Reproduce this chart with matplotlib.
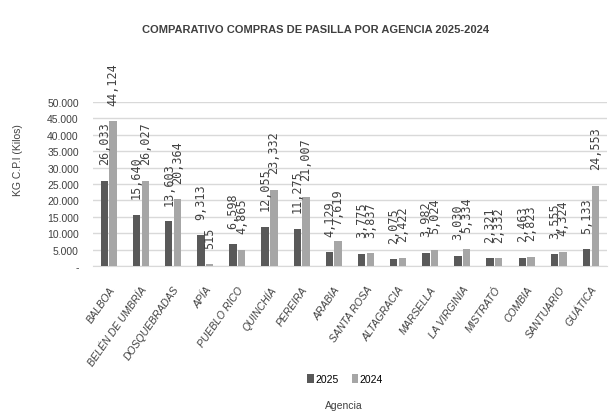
import matplotlib
matplotlib.use("Agg")
import matplotlib.pyplot as plt
import numpy as np
from matplotlib.ticker import FuncFormatter

agencias = ["BALBOA", "BELÉN DE UMBRÍA", "DOSQUEBRADAS", "APÍA", "PUEBLO RICO",
            "QUINCHÍA", "PEREIRA", "ARABIA", "SANTA ROSA", "ALTAGRACIA",
            "MARSELLA", "LA VIRGINIA", "MISTRATÓ", "COMBIA", "SANTUARIO", "GUÁTICA"]
kg_2025 = [26033, 15640, 13603, 9313, 6598, 12055, 11275, 4129, 3775, 2075,
           3982, 3030, 2321, 2463, 3555, 5133]
kg_2024 = [44124, 26027, 20364, 515, 4865, 23332, 21007, 7619, 3837, 2422,
           5024, 5334, 2332, 2823, 4324, 24553]
series_labels = ["2025", "2024"]
y_ticks = list(range(0, 50001, 5000))

sans = ["Liberation Sans", "DejaVu Sans"]
mono = ["DejaVu Sans Mono"]

fig = plt.figure(figsize=(6.1, 4.14), dpi=100)
ax = fig.add_axes([0.152, 0.355, 0.843, 0.396])

x = np.arange(len(agencias))
w = 0.23
b1 = ax.bar(x - w / 2 - 0.02, kg_2025, w, color="#595959", label=series_labels[0], zorder=3)
b2 = ax.bar(x + w / 2 + 0.02, kg_2024, w, color="#a6a6a6", label=series_labels[1], zorder=3)

def fmt(v):
    return f"{v:,}"

for bars, vals in ((b1, kg_2025), (b2, kg_2024)):
    for r, v in zip(bars, vals):
        ax.annotate(fmt(v), (r.get_x() + r.get_width() / 2, v),
                    xytext=(0, 12), textcoords="offset points",
                    rotation=90, ha="center", va="bottom",
                    fontsize=8.5, family=mono, color="#404040",
                    annotation_clip=False)

ax.set_ylim(0, 50000)
ax.set_xlim(-0.5, len(agencias) - 0.5)
ax.set_yticks(y_ticks)
ax.yaxis.set_major_formatter(FuncFormatter(
    lambda v, p: "-" if v == 0 else f"{int(v):,}".replace(",", ".")))
ax.grid(axis="y", color="#d9d9d9", linewidth=1, zorder=0)
for s in ("top", "right", "left"):
    ax.spines[s].set_visible(False)
ax.spines["bottom"].set_color("#d9d9d9")
ax.tick_params(axis="both", length=0)
ax.tick_params(axis="y", labelsize=7.5, labelcolor="#404040", pad=10)
for t in ax.get_yticklabels():
    t.set_family(sans)

ax.set_xticks(x)
ax.set_xticklabels(agencias, rotation=55, ha="right", rotation_mode="anchor",
                   fontsize=7.5, style="italic", family=sans, color="#404040")
ax.tick_params(axis="x", pad=13)

fig.text(0.03, 1 - 160 / 414, "KG C.P.I (Kilos)", rotation=90, ha="center", va="center",
         fontsize=7.5, family=sans, color="#404040")
fig.text(0.518, 1 - 30 / 414, "COMPARATIVO COMPRAS DE PASILLA POR AGENCIA 2025-2024",
         ha="center", va="center", fontsize=8, fontweight="bold", family=sans,
         color="#404040")
fig.text(0.563, 1 - 406 / 414, "Agencia", ha="center", va="center",
         fontsize=7.5, family=sans, color="#404040")

fig.legend(handles=[b1, b2], labels=series_labels, loc="center",
           bbox_to_anchor=(0.566, 1 - 380 / 414), ncol=2, frameon=False,
           handlelength=0.6, handleheight=0.9, handletextpad=0.2,
           columnspacing=1.2, prop={"family": sans, "size": 7.5})

fig.savefig("out.png", dpi=100)
